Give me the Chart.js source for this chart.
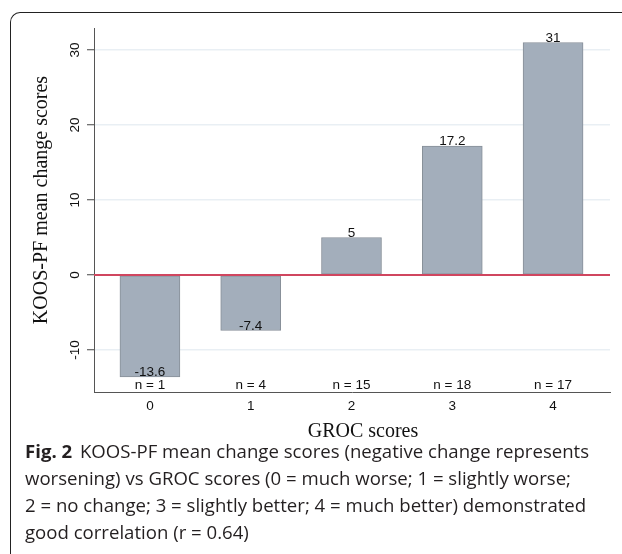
<!DOCTYPE html>
<html>
<head>
<meta charset="utf-8">
<script src="https://cdn.jsdelivr.net/npm/chart.js@4.4.0/dist/chart.umd.min.js"></script>
<style>
  html, body { margin: 0; padding: 0; background: #fff; overflow: hidden; }
  body { width: 622px; height: 554px; position: relative; }
  #frame {
    position: absolute; left: 10px; top: 11.5px; width: 700px; height: 600px;
    border-left: 1.5px solid #222; border-top: 1.5px solid #222;
    border-top-left-radius: 10px;
  }
  #plot { position: absolute; left: 0; top: 0; }
  #caption {
    position: absolute; left: 25px; top: 437px; width: 600px;
    font-family: "Open Sans", "Noto Sans", sans-serif; font-size: 18.6px;
    line-height: 27px; color: #231f20; white-space: nowrap;
  }
  #caption b { font-weight: 700; margin-right: 3px; }
</style>
</head>
<body>
<div id="frame"></div>
<canvas id="plot" width="622" height="450"></canvas>
<div id="caption">
  <b>Fig. 2</b> KOOS-PF mean change scores (negative change represents<br>
  worsening) vs GROC scores (0 = much worse; 1 = slightly worse;<br>
  2 = no change; 3 = slightly better; 4 = much better) demonstrated<br>
  good correlation (r = 0.64)
</div>
<script>
document.addEventListener('DOMContentLoaded', function() {
    // dados do gráfico
    var grocScores = [0, 1, 2, 3, 4];
    var meanChange = [-13.6, -7.4, 5, 17.2, 31];
    var nCounts = [1, 4, 15, 18, 17];
    var yTicks = [-10, 0, 10, 20, 30];
    var xTitle = 'GROC scores';
    var yTitle = 'KOOS-PF mean change scores';

    var sansFont = "'Liberation Sans', Arial, sans-serif";
    var serifFont = "'Liberation Serif', 'Times New Roman', serif";

    // rótulos de valor e "n = x" sobre as barras, linha vermelha no zero, títulos dos eixos
    var extras = {
        id: 'extras',
        afterDatasetsDraw: function(chart) {
            var ctx = chart.ctx;
            var area = chart.chartArea;
            var y = chart.scales.y;
            var zero = y.getPixelForValue(0);

            ctx.save();
            ctx.strokeStyle = '#d0465f';
            ctx.lineWidth = 2;
            ctx.beginPath();
            ctx.moveTo(area.left, zero);
            ctx.lineTo(area.right, zero);
            ctx.stroke();

            ctx.fillStyle = '#111';
            ctx.font = '13.5px ' + sansFont;
            ctx.textAlign = 'center';
            ctx.textBaseline = 'alphabetic';
            var meta = chart.getDatasetMeta(0);
            meta.data.forEach(function(bar, i) {
                ctx.fillText(String(meanChange[i]), bar.x, bar.y - 0.5);
                ctx.fillText('n = ' + nCounts[i], bar.x, area.bottom - 3);
            });

            ctx.font = '20px ' + serifFont;
            ctx.textBaseline = 'middle';
            ctx.fillText(xTitle, 363, 432);
            ctx.translate(42, 200);
            ctx.rotate(-Math.PI / 2);
            ctx.fillText(yTitle, 0, 0);
            ctx.restore();
        }
    };

    var config = {
        type: 'bar',
        data: {
            datasets: [{
                data: grocScores.map(function(g, i) { return { x: g, y: meanChange[i] }; }),
                backgroundColor: '#a3aebb',
                borderColor: '#878f98',
                borderWidth: 1,
                borderSkipped: false,
                barThickness: 60
            }]
        },
        options: {
            responsive: false,
            animation: false,
            layout: { padding: { top: 28, right: 12, left: 0, bottom: 0 } },
            plugins: {
                legend: { display: false },
                tooltip: { enabled: false }
            },
            scales: {
                x: {
                    type: 'linear',
                    offset: false,
                    min: -0.555,
                    max: 4.565,
                    afterBuildTicks: function(s) { s.ticks = grocScores.map(function(v) { return { value: v }; }); },
                    afterFit: function(s) { s.height = 58; },
                    grid: { display: false, drawTicks: false },
                    border: { display: true, color: '#555', width: 1 },
                    ticks: {
                        color: '#111',
                        padding: 6,
                        maxRotation: 0,
                        font: { family: sansFont, size: 13.5 },
                        callback: function(v) { return String(v); }
                    }
                },
                y: {
                    min: -15.6,
                    max: 32.93,
                    afterBuildTicks: function(s) { s.ticks = yTicks.map(function(v) { return { value: v }; }); },
                    afterFit: function(s) { s.width = 94; },
                    grid: {
                        color: function(c) { return c.tick && c.tick.value === 0 ? '#d0465f' : '#e9eff4'; },
                        lineWidth: 1.5,
                        drawTicks: true,
                        tickLength: 7,
                        tickColor: '#444',
                        tickWidth: 1
                    },
                    border: { display: true, color: '#555', width: 1 },
                    ticks: {
                        color: '#111',
                        padding: 2,
                        minRotation: 90,
                        maxRotation: 90,
                        crossAlign: 'center',
                        font: { family: sansFont, size: 13.5 }
                    }
                }
            }
        },
        plugins: [extras]
    };

    var ctx = document.getElementById('plot').getContext('2d');
    new Chart(ctx, config);
});
</script>
</body>
</html>
